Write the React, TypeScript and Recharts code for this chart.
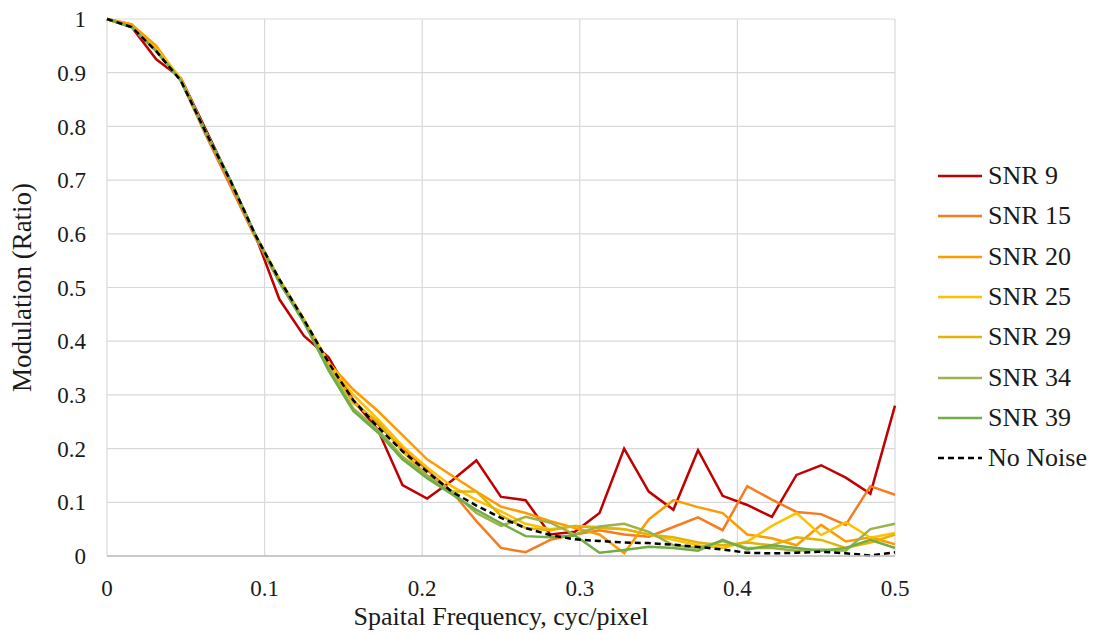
import { LineChart, Line, XAxis, YAxis, CartesianGrid, Legend } from "recharts";

// spatial frequency samples, cyc/pixel
const freq = [
  0, 0.015625, 0.03125, 0.046875, 0.0625, 0.078125, 0.09375, 0.109375, 0.125, 0.140625, 0.15625,
  0.171875, 0.1875, 0.203125, 0.21875, 0.234375, 0.25, 0.265625, 0.28125, 0.296875, 0.3125,
  0.328125, 0.34375, 0.359375, 0.375, 0.390625, 0.40625, 0.421875, 0.4375, 0.453125, 0.46875,
  0.484375, 0.5,
];

const snr9 = [
  1, 0.985, 0.925, 0.89, 0.795, 0.7, 0.6, 0.478, 0.41, 0.37, 0.29, 0.235, 0.132, 0.107, 0.14,
  0.178, 0.11, 0.104, 0.04, 0.045, 0.08, 0.2, 0.12, 0.086, 0.197, 0.112, 0.095, 0.073, 0.151,
  0.169, 0.146, 0.116, 0.28,
];
const snr15 = [
  1, 0.99, 0.945, 0.885, 0.785, 0.69, 0.595, 0.51, 0.435, 0.355, 0.29, 0.245, 0.2, 0.16, 0.12,
  0.065, 0.015, 0.007, 0.03, 0.04, 0.048, 0.04, 0.036, 0.054, 0.072, 0.048, 0.13, 0.105, 0.082,
  0.078, 0.058, 0.13, 0.114,
];
const snr20 = [
  1, 0.99, 0.95, 0.885, 0.79, 0.7, 0.6, 0.515, 0.44, 0.36, 0.31, 0.27, 0.225, 0.18, 0.15, 0.12,
  0.092, 0.08, 0.065, 0.052, 0.04, 0.005, 0.068, 0.104, 0.091, 0.08, 0.04, 0.033, 0.02, 0.058,
  0.027, 0.035, 0.022,
];
const snr25 = [
  1, 0.985, 0.945, 0.89, 0.79, 0.7, 0.6, 0.515, 0.44, 0.36, 0.3, 0.255, 0.205, 0.165, 0.13, 0.104,
  0.083, 0.06, 0.05, 0.056, 0.054, 0.05, 0.04, 0.03, 0.02, 0.015, 0.027, 0.056, 0.08, 0.039,
  0.063, 0.034, 0.043,
];
const snr29 = [
  1, 0.985, 0.94, 0.885, 0.79, 0.7, 0.6, 0.515, 0.44, 0.355, 0.285, 0.25, 0.195, 0.15, 0.12, 0.12,
  0.075, 0.052, 0.048, 0.056, 0.052, 0.05, 0.04, 0.035, 0.025, 0.02, 0.025, 0.02, 0.035, 0.03,
  0.015, 0.025, 0.04,
];
const snr34 = [
  1, 0.985, 0.94, 0.885, 0.79, 0.7, 0.6, 0.51, 0.435, 0.35, 0.275, 0.235, 0.185, 0.15, 0.12, 0.08,
  0.056, 0.073, 0.062, 0.04, 0.055, 0.06, 0.045, 0.02, 0.015, 0.028, 0.015, 0.015, 0.01, 0.012,
  0.01, 0.05, 0.06,
];
const snr39 = [
  1, 0.985, 0.94, 0.885, 0.79, 0.7, 0.6, 0.51, 0.435, 0.345, 0.27, 0.23, 0.18, 0.145, 0.115,
  0.086, 0.061, 0.037, 0.035, 0.038, 0.006, 0.011, 0.017, 0.015, 0.01, 0.03, 0.012, 0.02, 0.015,
  0.01, 0.015, 0.03, 0.015,
];
const noNoise = [
  1, 0.985, 0.94, 0.885, 0.79, 0.7, 0.6, 0.515, 0.44, 0.36, 0.29, 0.24, 0.195, 0.157, 0.12, 0.094,
  0.071, 0.052, 0.039, 0.031, 0.028, 0.025, 0.024, 0.021, 0.017, 0.012, 0.006, 0.005, 0.006,
  0.008, 0.005, 0.001, 0.007,
];

const xTicks = [0, 0.1, 0.2, 0.3, 0.4, 0.5];
const yTicks = [0, 0.1, 0.2, 0.3, 0.4, 0.5, 0.6, 0.7, 0.8, 0.9, 1];

const series = [
  { key: "snr9", name: "SNR 9", color: "#C00000", dash: undefined },
  { key: "snr15", name: "SNR 15", color: "#F57C1F", dash: undefined },
  { key: "snr20", name: "SNR 20", color: "#FF9A00", dash: undefined },
  { key: "snr25", name: "SNR 25", color: "#FFC000", dash: undefined },
  { key: "snr29", name: "SNR 29", color: "#E2B40A", dash: undefined },
  { key: "snr34", name: "SNR 34", color: "#9BB34A", dash: undefined },
  { key: "snr39", name: "SNR 39", color: "#70AD47", dash: undefined },
  { key: "noNoise", name: "No Noise", color: "#000000", dash: "6 4" },
];

const data = freq.map((f, i) => ({
  f,
  snr9: snr9[i],
  snr15: snr15[i],
  snr20: snr20[i],
  snr25: snr25[i],
  snr29: snr29[i],
  snr34: snr34[i],
  snr39: snr39[i],
  noNoise: noNoise[i],
}));

const FONT = "Liberation Serif, DejaVu Serif, serif";
const INK = "#1a1a1a";

function LegendBox() {
  return (
    <div style={{ fontFamily: FONT, fontSize: 26, color: INK, lineHeight: 1 }}>
      {series.map((s) => (
        <div key={s.key} style={{ display: "flex", alignItems: "center", height: 40.3 }}>
          <svg width={50} height={10}>
            <line x1={3} y1={5} x2={47} y2={5} stroke={s.color} strokeWidth={2.5} strokeDasharray={s.dash} />
          </svg>
          <span style={{ marginLeft: 3 }}>{s.name}</span>
        </div>
      ))}
    </div>
  );
}

export default function App() {
  return (
    <div style={{ width: 1100, height: 634, background: "#fff" }}>
      <style>{"body{margin:0}"}</style>
      <LineChart width={1100} height={634} data={data} margin={{ top: 19, right: 35, bottom: 18, left: 0 }}>
        <CartesianGrid stroke="#d9d9d9" strokeWidth={1.2} />
        <XAxis
          dataKey="f"
          type="number"
          domain={[0, 0.5]}
          ticks={xTicks}
          height={60}
          tickLine={false}
          tickSize={0}
          tickMargin={24}
          axisLine={{ stroke: "#bfbfbf", strokeWidth: 1.5 }}
          tick={{ fontFamily: FONT, fontSize: 23, fill: INK }}
          label={{ value: "Spaital Frequency, cyc/pixel", position: "center", dy: 30, style: { fontFamily: FONT, fontSize: 26, fill: INK } }}
        />
        <YAxis
          type="number"
          domain={[0, 1]}
          ticks={yTicks}
          width={107}
          axisLine={false}
          tickLine={false}
          tickSize={0}
          tickMargin={21}
          tick={{ fontFamily: FONT, fontSize: 23, fill: INK }}
          label={{ value: "Modulation (Ratio)", angle: -90, position: "center", dx: -32, style: { fontFamily: FONT, fontSize: 27, fill: INK } }}
        />
        <Legend
          layout="vertical"
          align="right"
          verticalAlign="middle"
          content={() => <LegendBox />}
          wrapperStyle={{ width: 170, left: 935, top: 156 }}
        />
        {series.map((s) => (
          <Line
            key={s.key}
            type="linear"
            dataKey={s.key}
            name={s.name}
            stroke={s.color}
            strokeWidth={2.5}
            strokeDasharray={s.dash}
            dot={false}
            activeDot={false}
            isAnimationActive={false}
          />
        ))}
      </LineChart>
    </div>
  );
}
